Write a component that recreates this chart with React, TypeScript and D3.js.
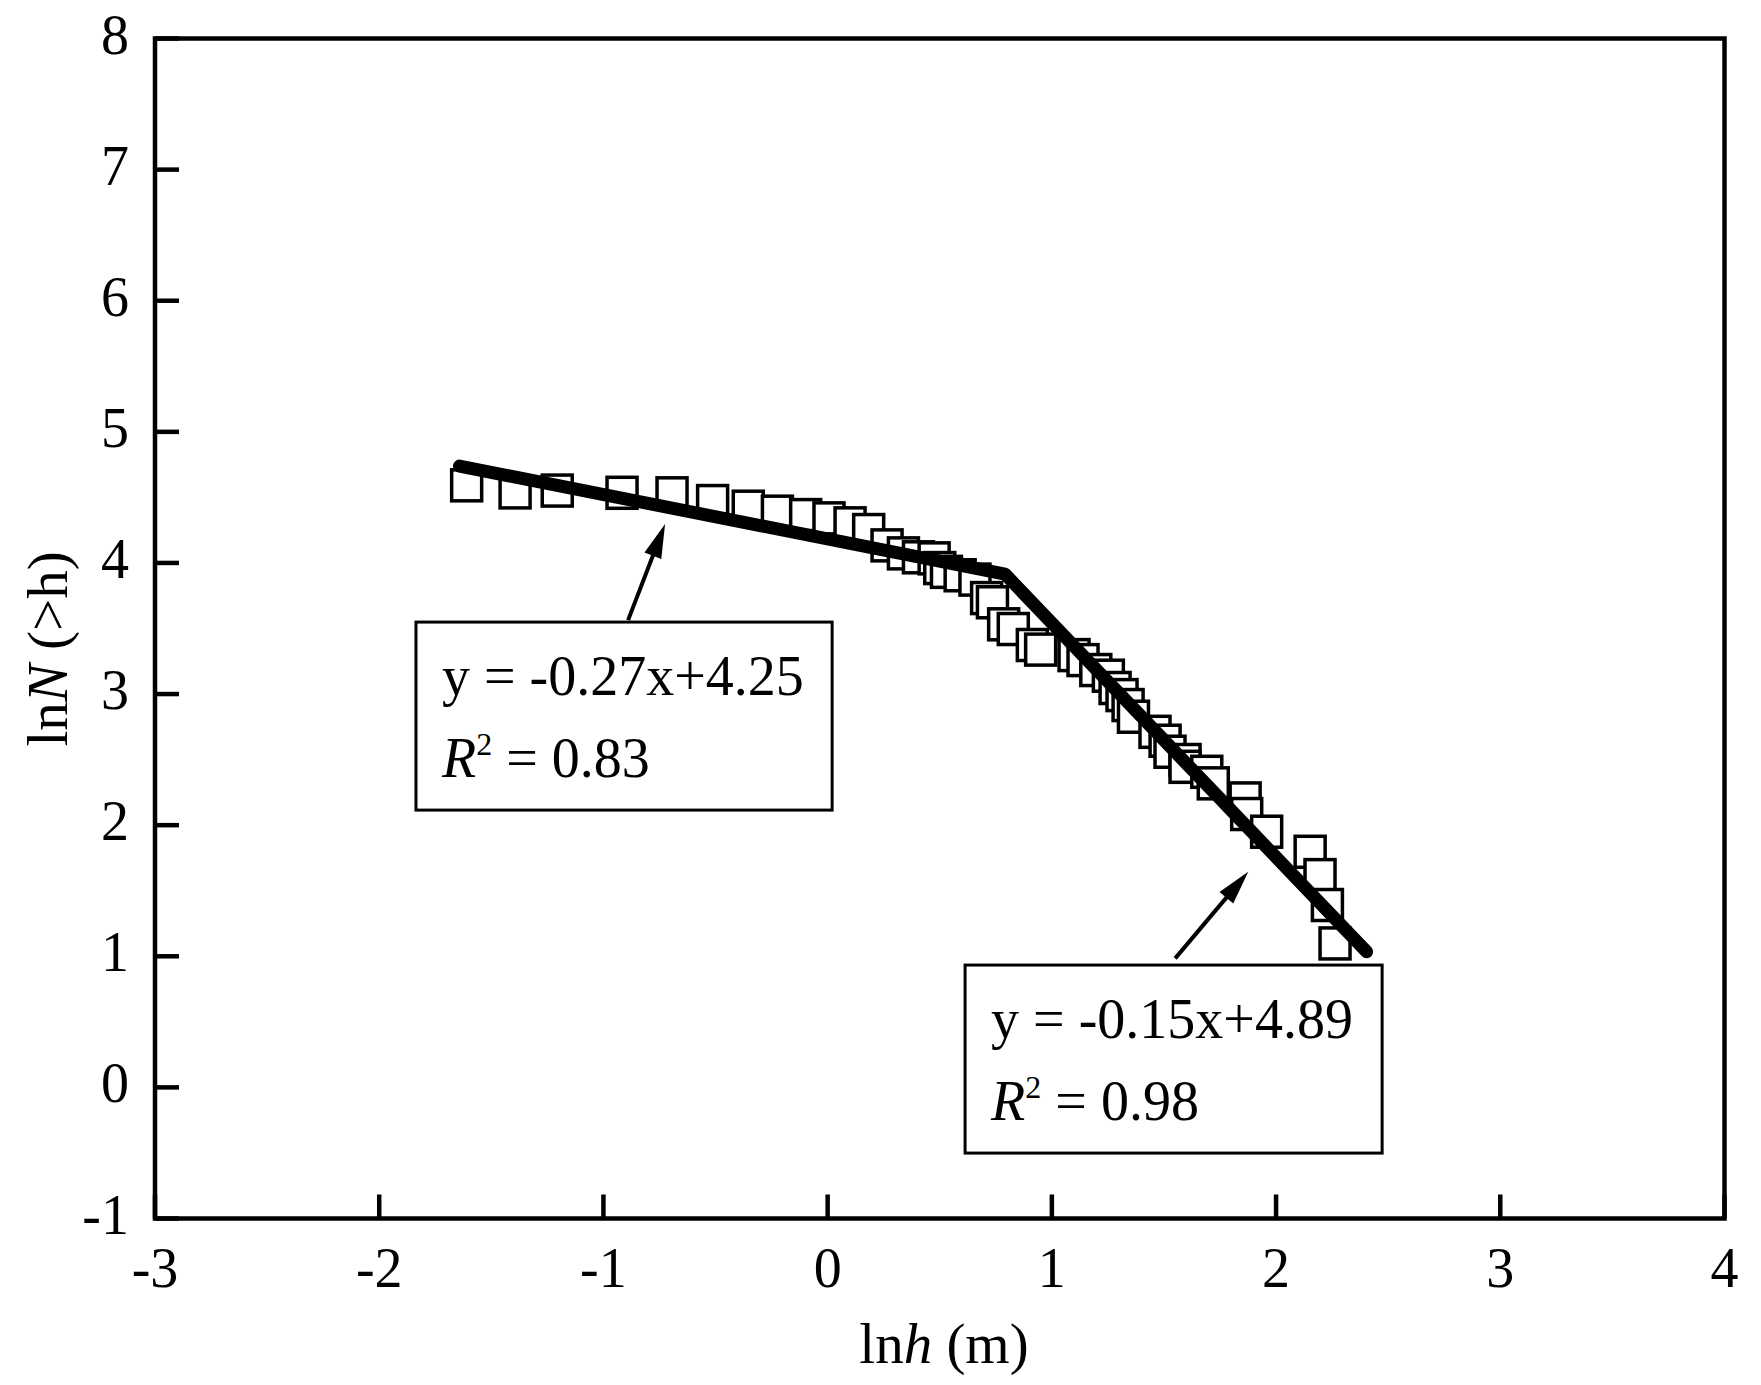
import React from "react";
import * as d3 from "d3";

// ---- data ----
const lnH = [
  -1.61, -1.394, -1.206, -0.917, -0.694, -0.513, -0.354, -0.224, -0.098, 0.006,
  0.1, 0.183, 0.265, 0.338, 0.405, 0.475, 0.5, 0.53, 0.591, 0.657,
  0.709, 0.735, 0.785, 0.828, 0.913, 0.95, 1.099, 1.139, 1.196, 1.252,
  1.282, 1.313, 1.34, 1.364, 1.46, 1.505, 1.527, 1.594, 1.594, 1.691,
  1.72, 1.862, 1.869, 1.958, 2.152, 2.196, 2.229, 2.263,
];
const lnN = [
  4.592, 4.538, 4.552, 4.535, 4.531, 4.472, 4.429, 4.391, 4.365, 4.34,
  4.302, 4.251, 4.134, 4.073, 4.043, 4.035, 3.961, 3.932, 3.906, 3.873,
  3.732, 3.7, 3.532, 3.496, 3.374, 3.339, 3.297, 3.259, 3.183, 3.14,
  3.046, 2.992, 2.916, 2.827, 2.712, 2.644, 2.56, 2.497, 2.445, 2.407,
  2.319, 2.204, 2.085, 1.95, 1.797, 1.619, 1.391, 1.098,
];
const fitX = [-1.642, 0.791, 2.404];
const fitY = [4.739, 3.915, 1.034];

const xTicks = [-3, -2, -1, 0, 1, 2, 3, 4];
const yTicks = [-1, 0, 1, 2, 3, 4, 5, 6, 7, 8];

const eq1 = "y = -0.27x+4.25";
const r1 = " = 0.83";
const eq2 = "y = -0.15x+4.89";
const r2 = " = 0.98";

// annotation anchors (data coords)
const box1 = { x0: -1.836, x1: 0.02, yTop: 3.549, yBot: 2.115 };
const box2 = { x0: 0.613, x1: 2.473, yTop: 0.933, yBot: -0.501 };
const arrow1 = { x0: -0.89, y0: 3.564, x1: -0.725, y1: 4.297 };
const arrow2 = { x0: 1.55, y0: 0.984, x1: 1.876, y1: 1.645 };

const W = 1761;
const H = 1385;
const FONT = "'Times New Roman', 'Liberation Serif', serif";

function Arrow({ x0, y0, x1, y1 }: { x0: number; y0: number; x1: number; y1: number }) {
  const dx = x1 - x0;
  const dy = y1 - y0;
  const len = Math.hypot(dx, dy);
  const ux = dx / len;
  const uy = dy / len;
  const hl = 34;
  const hw = 9;
  const bx = x1 - ux * hl;
  const by = y1 - uy * hl;
  const px = -uy;
  const py = ux;
  const pts = [
    [x1, y1],
    [bx + px * hw, by + py * hw],
    [bx - px * hw, by - py * hw],
  ];
  return (
    <g>
      <line x1={x0} y1={y0} x2={bx + ux * 4} y2={by + uy * 4} stroke="#000" strokeWidth={4} />
      <polygon points={pts.map((p) => p.join(",")).join(" ")} fill="#000" />
    </g>
  );
}

export default function App() {
  const x = d3.scaleLinear().domain([-3, 4]).range([155, 1724.5]);
  const y = d3.scaleLinear().domain([-1, 8]).range([1218.5, 38.5]);

  const pts = lnH.map((v, i) => [v, lnN[i]] as [number, number]);
  const fit = d3
    .line<number>()
    .x((d) => x(d))
    .y((_, i) => y(fitY[i]));

  const sqW = 30;
  const sqH = 31;
  const tickLen = 24;

  const boxes = [
    { b: box1, eq: eq1, r: r1 },
    { b: box2, eq: eq2, r: r2 },
  ];

  return (
    <svg
      width={W}
      height={H}
      viewBox={`0 0 ${W} ${H}`}
      style={{ position: "absolute", left: 0, top: 0, background: "#fff" }}
      fontFamily={FONT}
    >
      <rect x={0} y={0} width={W} height={H} fill="#fff" />

      {/* markers */}
      <g>
        {pts.map(([a, b], i) => (
          <rect
            key={i}
            x={x(a) - sqW / 2}
            y={y(b) - sqH / 2}
            width={sqW}
            height={sqH}
            fill="#fff"
            stroke="#000"
            strokeWidth={3.5}
          />
        ))}
      </g>

      {/* fitted lines */}
      <path
        d={fit(fitX) || ""}
        fill="none"
        stroke="#000"
        strokeWidth={13}
        strokeLinecap="round"
        strokeLinejoin="round"
      />

      {/* arrows */}
      <Arrow x0={x(arrow1.x0)} y0={y(arrow1.y0)} x1={x(arrow1.x1)} y1={y(arrow1.y1)} />
      <Arrow x0={x(arrow2.x0)} y0={y(arrow2.y0)} x1={x(arrow2.x1)} y1={y(arrow2.y1)} />

      {/* annotation boxes */}
      {boxes.map(({ b, eq, r }, i) => {
        const left = x(b.x0);
        const top = y(b.yTop);
        return (
          <g key={i}>
            <rect
              x={left}
              y={top}
              width={x(b.x1) - left}
              height={y(b.yBot) - top}
              fill="#fff"
              stroke="#000"
              strokeWidth={3}
            />
            <text x={left + 26} y={top + 73} fontSize={56}>
              {eq}
            </text>
            <text x={left + 26} y={top + 155} fontSize={56}>
              <tspan fontStyle="italic">R</tspan>
              <tspan fontSize={32} dy={-22}>
                2
              </tspan>
              <tspan dy={22}>{r}</tspan>
            </text>
          </g>
        );
      })}

      {/* axes frame */}
      <rect
        x={x(-3)}
        y={y(8)}
        width={x(4) - x(-3)}
        height={y(-1) - y(8)}
        fill="none"
        stroke="#000"
        strokeWidth={4.5}
      />
      {xTicks.map((t) => (
        <g key={"x" + t}>
          <line x1={x(t)} x2={x(t)} y1={y(-1)} y2={y(-1) - tickLen} stroke="#000" strokeWidth={4.5} />
          <text x={x(t)} y={y(-1) + 68.5} fontSize={56} textAnchor="middle">
            {String(t)}
          </text>
        </g>
      ))}
      {yTicks.map((t) => (
        <g key={"y" + t}>
          <line x1={x(-3)} x2={x(-3) + tickLen} y1={y(t)} y2={y(t)} stroke="#000" strokeWidth={4.5} />
          <text x={x(-3) - 26} y={y(t) + 15} fontSize={56} textAnchor="end">
            {String(t)}
          </text>
        </g>
      ))}

      {/* axis titles */}
      <text x={944} y={1363} fontSize={57} textAnchor="middle">
        ln<tspan fontStyle="italic">h</tspan> (m)
      </text>
      <text
        transform={`translate(67,649) rotate(-90)`}
        fontSize={57}
        textAnchor="middle"
      >
        ln<tspan fontStyle="italic">N</tspan> (&gt;h)
      </text>
    </svg>
  );
}
